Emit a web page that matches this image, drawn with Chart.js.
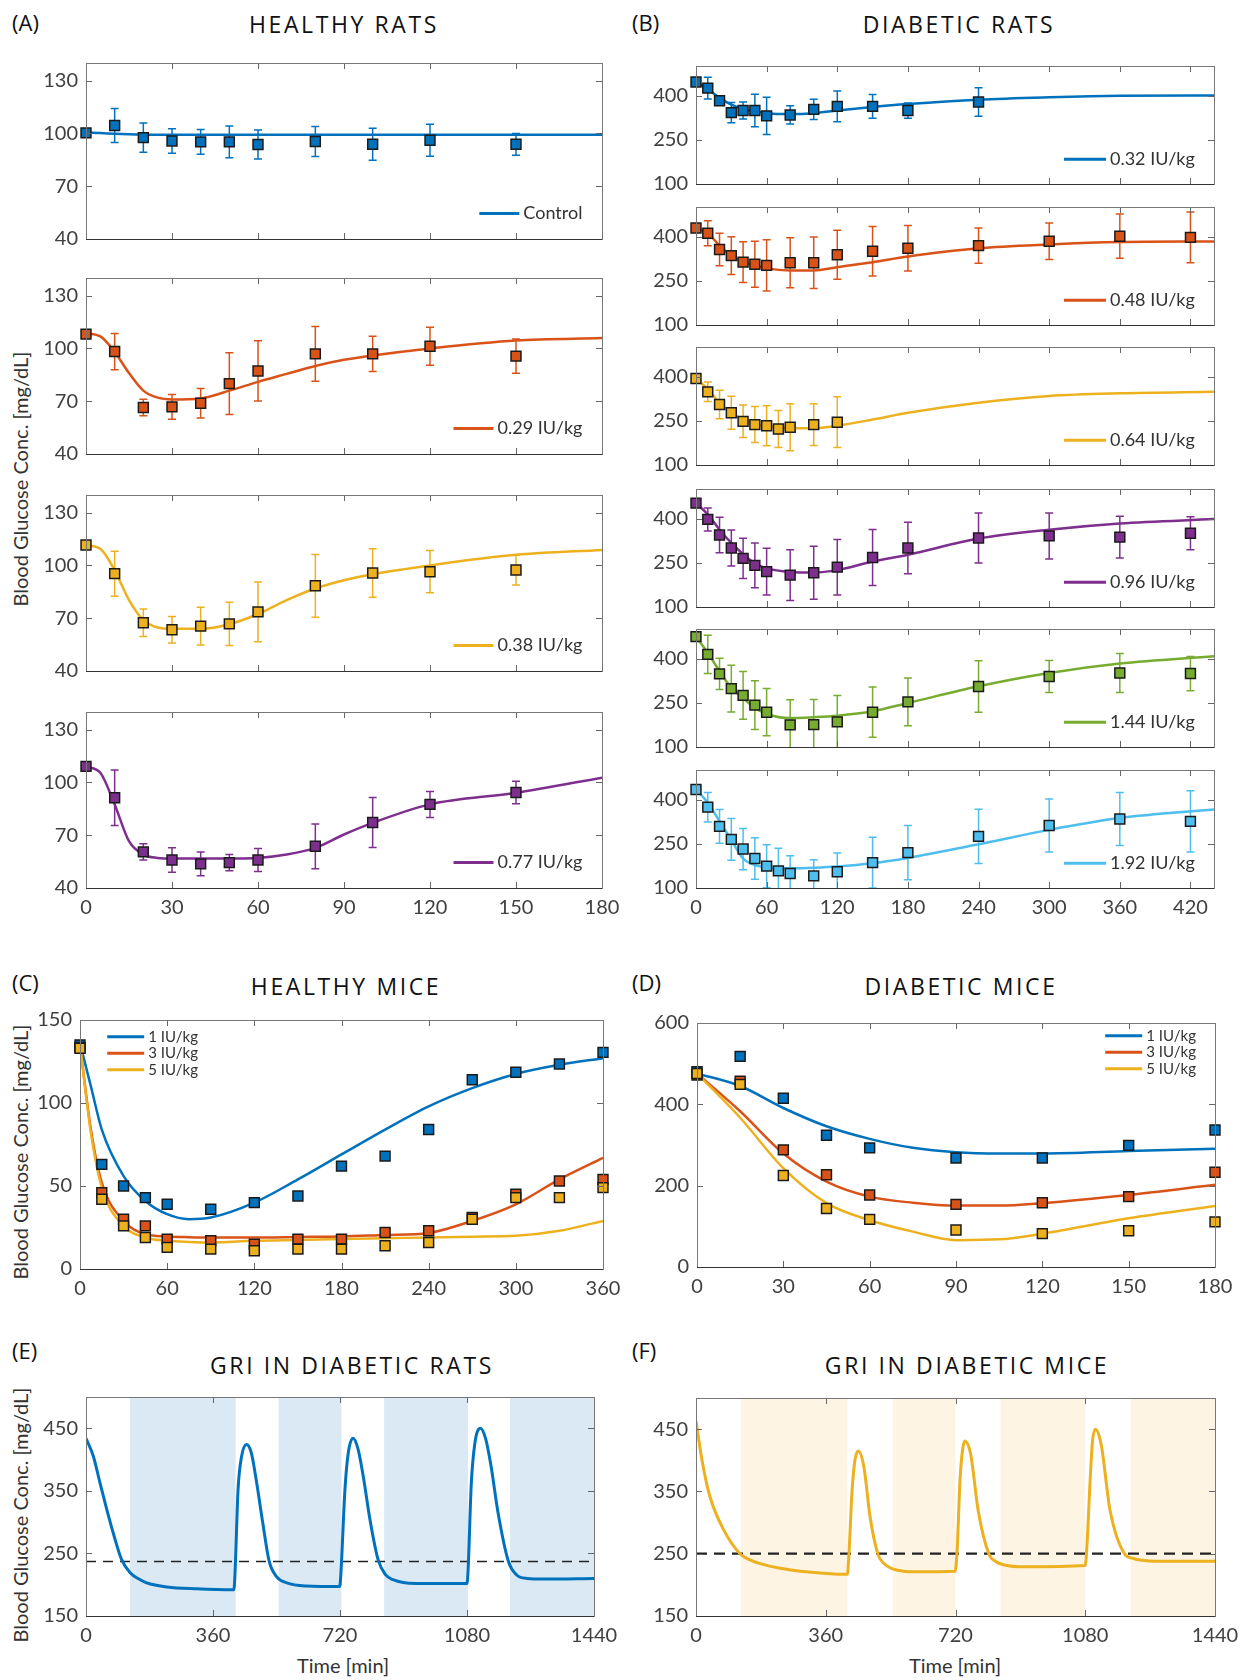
<!DOCTYPE html>
<html>
<head>
<meta charset="utf-8">
<script src="https://cdn.jsdelivr.net/npm/chart.js@4.4.1/dist/chart.umd.min.js"></script>
<style>
  body { margin: 0; background: #fff; width: 1244px; height: 1680px; position: relative; overflow: hidden; }
  canvas { position: absolute; }
  .tag { position: absolute; font-family: "Open Sans"; font-size: 22px; color: #111; transform: translateY(-50%); }
  .ttl { position: absolute; font-family: "Open Sans"; font-size: 23px; letter-spacing: 2.6px; color: #111; transform: translate(-50%, -50%); white-space: nowrap; }
  .ytl { position: absolute; font-family: Lato; font-size: 20px; color: #333; transform: translate(-50%, -50%) rotate(-90deg); white-space: nowrap; }
  .xtl { position: absolute; font-family: Lato; font-size: 20px; color: #333; transform: translate(-50%, -50%); white-space: nowrap; }
</style>
</head>
<body>
<div class="tag" style="left:12px;top:22px">(A)</div>
<div class="tag" style="left:632px;top:22px">(B)</div>
<div class="tag" style="left:12px;top:982px">(C)</div>
<div class="tag" style="left:632px;top:982px">(D)</div>
<div class="tag" style="left:12px;top:1350px">(E)</div>
<div class="tag" style="left:632px;top:1350px">(F)</div>
<div class="ttl" style="left:344px;top:24px">HEALTHY RATS</div>
<div class="ttl" style="left:959px;top:24px">DIABETIC RATS</div>
<div class="ttl" style="left:346px;top:986px">HEALTHY MICE</div>
<div class="ttl" style="left:961px;top:986px">DIABETIC MICE</div>
<div class="ttl" style="left:352px;top:1365px">GRI IN DIABETIC RATS</div>
<div class="ttl" style="left:967px;top:1365px">GRI IN DIABETIC MICE</div>
<div class="ytl" style="left:20px;top:479px">Blood Glucose Conc. [mg/dL]</div>
<div class="ytl" style="left:20px;top:1152px">Blood Glucose Conc. [mg/dL]</div>
<div class="ytl" style="left:20px;top:1515px">Blood Glucose Conc. [mg/dL]</div>
<div class="xtl" style="left:343px;top:1665px">Time [min]</div>
<div class="xtl" style="left:955px;top:1665px">Time [min]</div>

<script>
// ---------- colours ----------
const cBlue = '#0072BD', cRed = '#D95319', cYel = '#EDB120', cPur = '#7E2F8E', cGrn = '#77AC30', cCyan = '#4DBEEE';

// ---------- (A) healthy rats ----------
const timesA = [0, 10, 20, 30, 40, 50, 60, 80, 100, 120, 150];
const ctrlA = [100.3, 104.5, 97.6, 95.7, 95.2, 95.2, 93.7, 95.4, 93.8, 96.1, 93.8];
const ctrlErrA = [1, 9.7, 8.3, 7, 7, 9, 8.2, 8.5, 9.1, 9.1, 6.2];
const d029A = [108.1, 98.2, 66.4, 66.8, 68.8, 80.0, 87.2, 96.9, 96.9, 101.2, 95.6];
const d029ErrA = [1, 10.3, 4.7, 7, 8.4, 17.5, 17.1, 15.6, 10, 10.8, 9.7];
const d038A = [111.6, 95.3, 67.4, 63.4, 65.5, 66.8, 73.6, 88.4, 95.7, 96.4, 97.4];
const d038ErrA = [1, 12.8, 7.8, 7.5, 10.7, 12.3, 17, 17.8, 13.8, 12, 8.5];
const d077A = [109.1, 91.3, 60.5, 55.9, 53.7, 54.4, 55.9, 63.7, 77.2, 87.5, 94.3];
const d077ErrA = [1, 15.8, 4.6, 7, 6.7, 4.6, 6.5, 12.7, 14.2, 7.4, 6.4];
const fitTimesA = [0, 5, 10, 15, 20, 25, 30, 40, 50, 60, 70, 80, 90, 100, 120, 150, 180];
const ctrlFitA = [100.5, 100.2, 99.8, 99.5, 99.3, 99.2, 99.2, 99.2, 99.2, 99.2, 99.2, 99.2, 99.2, 99.2, 99.2, 99.2, 99.2];
const d029FitA = [108.5, 106.8, 98, 86, 76, 72, 71, 71.6, 76, 81, 85.5, 90, 93.5, 96, 100, 104.5, 105.9];
const d038FitA = [111.6, 109.4, 97.2, 80.3, 69, 64.7, 64, 64, 66.6, 72.4, 80.3, 86.9, 91.6, 95, 100, 106, 108.8];
const d077FitA = [109, 105.5, 87.5, 66.6, 59, 57.1, 56.7, 56.7, 56.8, 57.1, 59, 62.8, 70.4, 77, 87.5, 94.1, 102.7];
const xTicksA = [0, 30, 60, 90, 120, 150, 180];
const yTicksA = [40, 70, 100, 130];

// ---------- (B) diabetic rats ----------
const timesB1 = [0, 10, 20, 30, 40, 50, 60, 80, 100, 120, 150, 180, 240];
const d032B = [446, 425, 382, 342, 349, 349, 331, 334, 353, 363, 363, 349, 378];
const d032ErrB = [5, 37, 10, 34, 29, 55, 63, 31, 34, 52, 40, 26, 48];
const timesB = [0, 10, 20, 30, 40, 50, 60, 80, 100, 120, 150, 180, 240, 300, 360, 420];
const d048B = [429, 411, 356, 335, 313, 306, 302, 311, 311, 338, 350, 360, 369, 384, 401, 397];
const d048ErrB = [5, 42, 55, 64, 69, 78, 87, 85, 87, 83, 84, 77, 60, 62, 75, 86];
const timesB3 = [0, 10, 20, 30, 40, 50, 60, 70, 80, 100, 120];
const d064B = [393, 348, 305, 277, 248, 237, 233, 222, 228, 237, 245];
const d064ErrB = [5, 33, 48, 56, 55, 61, 68, 63, 80, 71, 86];
const d096B = [452, 397, 344, 300, 265, 241, 220, 208, 216, 235, 268, 300, 334, 341, 337, 350];
const d096ErrB = [5, 39, 60, 61, 68, 76, 79, 86, 90, 94, 95, 87, 85, 78, 71, 56];
const d144B = [474, 414, 348, 298, 275, 242, 218, 175, 176, 185, 218, 253, 305, 339, 351, 349];
const d144ErrB = [5, 65, 53, 79, 81, 83, 80, 85, 85, 90, 85, 81, 87, 54, 66, 58];
const timesB6 = [0, 10, 20, 30, 40, 50, 60, 70, 80, 100, 120, 150, 180, 240, 300, 360, 420];
const d192B = [434, 374, 309, 265, 232, 200, 174, 158, 149, 141, 155, 186, 220, 275, 312, 334, 326];
const d192ErrB = [5, 50, 57, 71, 70, 70, 73, 77, 60, 55, 64, 86, 92, 92, 90, 90, 104];
const fitTimesB = [0, 10, 20, 30, 40, 50, 60, 80, 100, 120, 150, 180, 240, 300, 360, 440];
const d032FitB = [446, 421, 392, 369, 354, 346, 340, 337, 340, 349, 361, 371, 386, 394, 399, 400];
const d048FitB = [429, 411, 369, 335, 313, 302, 292, 285, 285, 296, 313, 332, 360, 373, 381, 383];
const d064FitB = [393, 357, 311, 277, 254, 239, 231, 225, 225, 233, 254, 277, 311, 334, 343, 348];
const d096FitB = [452, 414, 362, 317, 279, 248, 231, 219, 217, 225, 254, 277, 332, 362, 383, 398];
const d144FitB = [474, 419, 357, 300, 266, 232, 212, 198, 201, 206, 221, 249, 306, 351, 383, 408];
const d192FitB = [434, 389, 326, 263, 200, 178, 170, 167, 169, 173, 184, 202, 248, 297, 337, 366];
const xTicksB = [0, 60, 120, 180, 240, 300, 360, 420];
const yTicksB = [100, 250, 400];

// ---------- (C) healthy mice ----------
const timesC = [0, 15, 30, 45, 60, 90, 120, 150, 180, 210, 240, 270, 300, 330, 360];
const m1C = [135, 63, 50, 43, 39, 36, 40, 44, 62, 68, 84, 114, 118.5, 123.5, 130.5];
const m3C = [133.5, 46, 30, 26, 18, 17, 15, 18, 18, 22, 23, 31, 45, 53, 54];
const m5C = [133, 42, 26, 19, 13, 12, 11, 12, 12, 14, 16, 30, 43, 43, 49];
const fitTimesC = [0, 7.5, 15, 30, 45, 60, 75, 90, 120, 150, 180, 210, 240, 270, 300, 330, 360];
const m1FitC = [136, 110, 84, 56, 41, 33, 30, 31, 40, 54, 69, 84, 98, 109, 117.5, 123, 127];
const m3FitC = [135, 84, 52, 29, 21, 19.6, 19.2, 19, 19, 19.3, 19.6, 20.5, 21.7, 29, 39, 54, 67];
const m5FitC = [135, 82, 49, 26, 19, 17, 16.3, 16, 17, 17.5, 18, 18.5, 19, 19.5, 20, 23, 29];
const xTicksC = [0, 60, 120, 180, 240, 300, 360];
const yTicksC = [0, 50, 100, 150];

// ---------- (D) diabetic mice ----------
const timesD = [0, 15, 30, 45, 60, 90, 120, 150, 180];
const m1D = [480, 518, 415, 324, 293, 268, 268, 299, 337];
const m3D = [472, 457, 288, 227, 177, 154, 158, 173, 233];
const m5D = [476, 449, 225, 144, 117, 91, 82, 89, 111];
const fitTimesD = [0, 15, 30, 45, 60, 75, 90, 105, 120, 150, 180];
const m1FitD = [476, 445, 391, 346, 315, 293, 282, 279, 279, 285, 291];
const m3FitD = [476, 383, 279, 210, 173, 158, 151, 151, 157, 177, 202];
const m5FitD = [476, 367, 243, 157, 115, 87, 66, 68, 82, 120, 150];
const xTicksD = [0, 30, 60, 90, 120, 150, 180];
const yTicksD = [0, 200, 400, 600];
const doseLabels = ['1 IU/kg', '3 IU/kg', '5 IU/kg'];

// ---------- (E)/(F) glucose-responsive insulin ----------
const griTimesE = [0, 21, 40, 59, 77, 101, 125, 150, 172, 229, 314, 419,
  422, 431, 441, 455, 469, 484, 501, 519, 540, 569, 625, 719,
  722, 734, 743, 757, 771, 786, 805, 828, 849, 870, 935, 1080,
  1083, 1092, 1102, 1118, 1133, 1148, 1168, 1197, 1220, 1250, 1300, 1440];
const griRatE = [434, 405, 362, 320, 283, 240, 219, 209, 203, 196.5, 193.5, 192,
  213, 352, 405, 424, 410, 362, 299, 238, 213, 203, 198, 197,
  213, 352, 409, 434, 417, 373, 304, 240, 216, 208, 202, 202,
  222, 360, 425, 450, 433, 390, 315, 238, 216, 210, 209, 210];
const griTimesF = [0, 17, 39, 78, 122, 150, 178, 230, 289, 420,
  424, 433, 441, 450, 466, 483, 505, 520, 544, 575, 611, 719,
  724, 733, 740, 746, 762, 783, 813, 830, 855, 910, 1080,
  1085, 1094, 1100, 1108, 1124, 1149, 1190, 1210, 1232, 1288, 1440];
const griMiceF = [463, 399, 341, 287, 250, 240, 234, 227, 222, 217,
  245, 351, 400, 415, 389, 309, 249, 235, 226, 222, 221, 222,
  250, 373, 418, 431, 410, 319, 249, 238, 232, 229, 231,
  266, 373, 430, 450, 426, 319, 249, 243, 240, 238, 238];
const shadeE = [[125, 424], [546, 724], [845, 1083], [1202, 1440]];
const shadeF = [[125, 420], [546, 720], [845, 1080], [1206, 1440]];
const threshE = 237;
const threshF = 250;
const xTicksG = [0, 360, 720, 1080, 1440];
const yTicksG = [150, 250, 350, 450];

// ---------- plugins ----------
const xy = (xs, ys) => xs.map((x, i) => ({ x, y: ys[i] }));

const shade = {
  id: 'shade',
  beforeDatasetsDraw(chart, args, o) {
    if (!o.ranges) return;
    const { ctx, chartArea: a, scales: { x } } = chart;
    ctx.save();
    ctx.fillStyle = o.color;
    o.ranges.forEach(([s, e]) => {
      const x0 = x.getPixelForValue(s), x1 = x.getPixelForValue(e);
      ctx.fillRect(x0, a.top, x1 - x0, a.bottom - a.top);
    });
    ctx.restore();
  }
};

const errorBars = {
  id: 'errorBars',
  beforeDatasetsDraw(chart) {
    const { ctx, chartArea: a, scales: { x, y } } = chart;
    ctx.save();
    ctx.beginPath();
    ctx.rect(a.left, a.top, a.right - a.left, a.bottom - a.top);
    ctx.clip();
    chart.data.datasets.forEach(ds => {
      if (!ds.errors) return;
      ctx.strokeStyle = ds.backgroundColor;
      ctx.lineWidth = 1.5;
      ds.data.forEach((p, i) => {
        const e = ds.errors[i];
        const px = x.getPixelForValue(p.x);
        const y1 = y.getPixelForValue(p.y - e), y2 = y.getPixelForValue(p.y + e);
        ctx.beginPath();
        ctx.moveTo(px, y1); ctx.lineTo(px, y2);
        ctx.moveTo(px - 4, y1); ctx.lineTo(px + 4, y1);
        ctx.moveTo(px - 4, y2); ctx.lineTo(px + 4, y2);
        ctx.stroke();
      });
    });
    ctx.restore();
  }
};

const frame = {
  id: 'frame',
  afterDatasetsDraw(chart) {
    const { ctx, chartArea: { left, right, top, bottom }, scales: { x, y } } = chart;
    ctx.save();
    ctx.lineWidth = 1;
    ctx.strokeStyle = '#666';
    ctx.beginPath();
    x.ticks.forEach(t => {
      const px = Math.round(x.getPixelForValue(t.value)) + 0.5;
      ctx.moveTo(px, bottom); ctx.lineTo(px, bottom - 6);
      ctx.moveTo(px, top); ctx.lineTo(px, top + 6);
    });
    y.ticks.forEach(t => {
      const py = Math.round(y.getPixelForValue(t.value)) + 0.5;
      ctx.moveTo(left, py); ctx.lineTo(left + 6, py);
      ctx.moveTo(right, py); ctx.lineTo(right - 6, py);
    });
    ctx.stroke();
    ctx.strokeStyle = '#777';
    ctx.strokeRect(Math.round(left) + 0.5, Math.round(top) + 0.5, Math.round(right - left), Math.round(bottom - top));
    ctx.strokeStyle = '#333';
    ctx.beginPath();
    ctx.moveTo(left, Math.round(bottom) + 0.5); ctx.lineTo(right, Math.round(bottom) + 0.5);
    ctx.stroke();
    ctx.restore();
  }
};

const inLegend = {
  id: 'inLegend',
  afterDraw(chart, args, o) {
    if (!o.items) return;
    const { ctx, chartArea: a } = chart;
    ctx.save();
    ctx.font = o.font;
    ctx.textBaseline = 'middle';
    o.items.forEach((it, i) => {
      const yy = a.top + (a.bottom - a.top) * o.y + i * (o.gap || 0);
      let x0;
      if (o.align === 'right') {
        const tw = ctx.measureText(it.text).width;
        x0 = a.left + (a.right - a.left) * o.x - tw - 4 - o.len;
      } else {
        x0 = a.left + (a.right - a.left) * o.x;
      }
      ctx.strokeStyle = it.color;
      ctx.lineWidth = 3;
      ctx.beginPath(); ctx.moveTo(x0, yy); ctx.lineTo(x0 + o.len, yy); ctx.stroke();
      ctx.fillStyle = '#333';
      ctx.fillText(it.text, x0 + o.len + 4, yy);
    });
    ctx.restore();
  }
};

Chart.register(shade, errorBars, frame, inLegend);
Chart.defaults.font.family = 'Lato';

function lineSet(xs, ys, color, width) {
  return { data: xy(xs, ys), showLine: true, borderColor: color, borderWidth: width || 2.5,
           pointRadius: 0, cubicInterpolationMode: 'monotone', order: 2 };
}
function pointSet(xs, ys, color, errs) {
  return { data: xy(xs, ys), showLine: false, pointStyle: 'rect', pointRadius: 7,
           backgroundColor: color, borderColor: '#1a1a1a', borderWidth: 1.5,
           errors: errs, clip: false, order: 1 };
}

function makeChart(cfg) {
  const padL = 64, padT = 24, padR = 40;
  const padB = cfg.showX ? 40 : 24;
  const W = cfg.width + padL + padR, H = cfg.height + padT + padB;
  const c = document.createElement('canvas');
  c.width = W; c.height = H;
  c.style.left = (cfg.left - padL) + 'px';
  c.style.top = (cfg.top - padT) + 'px';
  c.style.width = W + 'px'; c.style.height = H + 'px';
  document.body.appendChild(c);
  const tickFont = { family: 'Lato', size: 20 };
  new Chart(c, {
    type: 'scatter',
    data: { datasets: cfg.datasets },
    options: {
      responsive: false,
      animation: false,
      layout: { padding: { top: padT, right: padR, left: 0, bottom: 0 } },
      plugins: Object.assign({ legend: { display: false }, tooltip: { enabled: false } }, cfg.plugins || {}),
      scales: {
        x: {
          type: 'linear', min: cfg.xMin, max: cfg.xMax,
          afterBuildTicks: s => { s.ticks = cfg.xTicks.map(v => ({ value: v })); },
          afterFit: s => { s.height = padB; },
          grid: { display: false, drawTicks: false },
          border: { display: false },
          ticks: { display: !!cfg.showX, color: '#404040', font: tickFont, padding: 8, maxRotation: 0,
                   autoSkip: false, callback: v => String(v) }
        },
        y: {
          type: 'linear', min: cfg.yMin, max: cfg.yMax,
          afterBuildTicks: s => { s.ticks = cfg.yTicks.map(v => ({ value: v })); },
          afterFit: s => { s.width = padL; },
          grid: { display: false, drawTicks: false },
          border: { display: false },
          ticks: { color: '#404040', font: tickFont, padding: 8, autoSkip: false, callback: v => String(v) }
        }
      }
    }
  });
}

// ---------- build (A) ----------
const seriesA = [
  [ctrlA, ctrlErrA, ctrlFitA, cBlue, 'Control'],
  [d029A, d029ErrA, d029FitA, cRed, '0.29 IU/kg'],
  [d038A, d038ErrA, d038FitA, cYel, '0.38 IU/kg'],
  [d077A, d077ErrA, d077FitA, cPur, '0.77 IU/kg']
];
const topsA = [63, 278, 495, 712];
seriesA.forEach((s, i) => {
  makeChart({
    left: 86, top: topsA[i], width: 516, height: 176,
    xMin: 0, xMax: 180, xTicks: xTicksA, yMin: 40, yMax: 140, yTicks: yTicksA,
    showX: i === 3,
    datasets: [pointSet(timesA, s[0], s[3], s[1]), lineSet(fitTimesA, s[2], s[3])],
    plugins: { inLegend: { items: [{ text: s[4], color: s[3] }], x: 0.962, y: 0.855, len: 40, font: '18px Lato', align: 'right' } }
  });
});

// ---------- build (B) ----------
const seriesB = [
  [timesB1, d032B, d032ErrB, d032FitB, cBlue, '0.32 IU/kg'],
  [timesB, d048B, d048ErrB, d048FitB, cRed, '0.48 IU/kg'],
  [timesB3, d064B, d064ErrB, d064FitB, cYel, '0.64 IU/kg'],
  [timesB, d096B, d096ErrB, d096FitB, cPur, '0.96 IU/kg'],
  [timesB, d144B, d144ErrB, d144FitB, cGrn, '1.44 IU/kg'],
  [timesB6, d192B, d192ErrB, d192FitB, cCyan, '1.92 IU/kg']
];
const topsB = [66, 207, 347, 489, 629, 770];
seriesB.forEach((s, i) => {
  makeChart({
    left: 696, top: topsB[i], width: 518, height: 118,
    xMin: 0, xMax: 440, xTicks: xTicksB, yMin: 100, yMax: 500, yTicks: yTicksB,
    showX: i === 5,
    datasets: [pointSet(s[0], s[1], s[4], s[2]), lineSet(fitTimesB, s[3], s[4])],
    plugins: { inLegend: { items: [{ text: s[5], color: s[4] }], x: 0.963, y: 0.79, len: 42, font: '18px Lato', align: 'right' } }
  });
});

// ---------- build (C) ----------
makeChart({
  left: 80, top: 1020, width: 523, height: 249,
  xMin: 0, xMax: 360, xTicks: xTicksC, yMin: 0, yMax: 150, yTicks: yTicksC, showX: true,
  datasets: [
    pointSet(timesC, m5C, cYel), pointSet(timesC, m3C, cRed), pointSet(timesC, m1C, cBlue),
    lineSet(fitTimesC, m5FitC, cYel), lineSet(fitTimesC, m3FitC, cRed), lineSet(fitTimesC, m1FitC, cBlue)
  ],
  plugins: { inLegend: { items: [{ text: doseLabels[0], color: cBlue }, { text: doseLabels[1], color: cRed }, { text: doseLabels[2], color: cYel }],
                         x: 0.052, y: 0.067, gap: 16.5, len: 37, font: '15px Lato', align: 'left' } }
});

// ---------- build (D) ----------
makeChart({
  left: 697, top: 1023, width: 518, height: 244,
  xMin: 0, xMax: 180, xTicks: xTicksD, yMin: 0, yMax: 600, yTicks: yTicksD, showX: true,
  datasets: [
    pointSet(timesD, m5D, cYel), pointSet(timesD, m3D, cRed), pointSet(timesD, m1D, cBlue),
    lineSet(fitTimesD, m5FitD, cYel), lineSet(fitTimesD, m3FitD, cRed), lineSet(fitTimesD, m1FitD, cBlue)
  ],
  plugins: { inLegend: { items: [{ text: doseLabels[0], color: cBlue }, { text: doseLabels[1], color: cRed }, { text: doseLabels[2], color: cYel }],
                         x: 0.788, y: 0.052, gap: 16.5, len: 37, font: '15px Lato', align: 'left' } }
});

// ---------- build (E) & (F) ----------
function threshSet(v, dash) {
  return { data: [{ x: 0, y: v }, { x: 1440, y: v }], showLine: true, borderColor: '#222', borderWidth: dash[2],
           borderDash: [dash[0], dash[1]], pointRadius: 0, order: 3 };
}
makeChart({
  left: 86, top: 1397, width: 508, height: 219,
  xMin: 0, xMax: 1440, xTicks: xTicksG, yMin: 150, yMax: 500, yTicks: yTicksG, showX: true,
  datasets: [lineSet(griTimesE, griRatE, cBlue, 3), threshSet(threshE, [10, 7, 1.5])],
  plugins: { shade: { ranges: shadeE, color: '#DBE9F4' } }
});
makeChart({
  left: 696, top: 1398, width: 519, height: 218,
  xMin: 0, xMax: 1440, xTicks: xTicksG, yMin: 150, yMax: 500, yTicks: yTicksG, showX: true,
  datasets: [lineSet(griTimesF, griMiceF, cYel, 3), threshSet(threshF, [11, 7, 2.2])],
  plugins: { shade: { ranges: shadeF, color: '#FDF4E3' } }
});
</script>
</body>
</html>
